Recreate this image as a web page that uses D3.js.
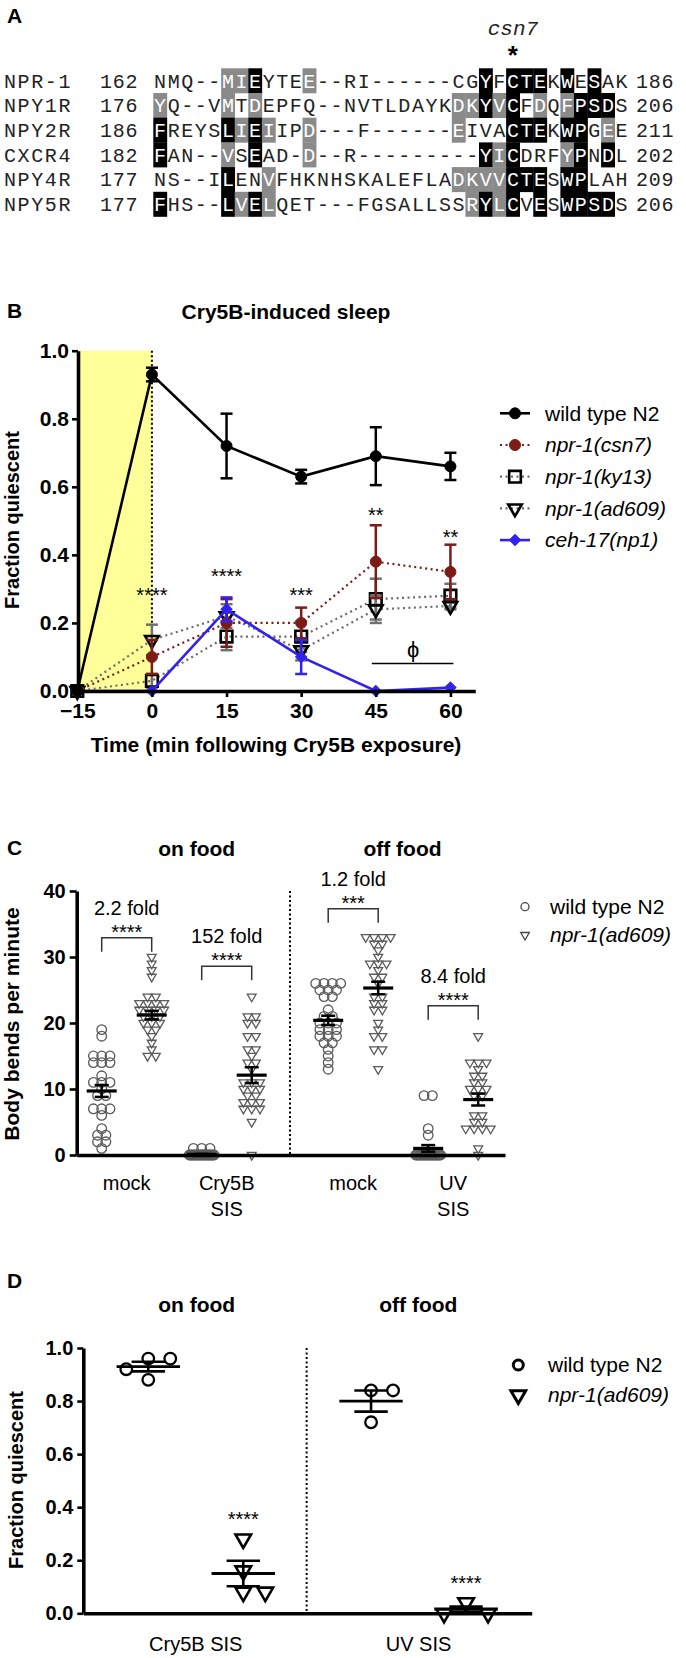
<!DOCTYPE html>
<html><head><meta charset="utf-8">
<script src="https://cdn.jsdelivr.net/npm/d3@7/dist/d3.min.js"></script>
<style>html,body{margin:0;padding:0;background:#fff}svg{display:block}</style>
</head><body>
<svg id="fig" width="686" height="1658"></svg>
<script>
// ===================== DATA =====================
// Panel A – sequence alignment
const alignNames = ["NPR-1","NPY1R","NPY2R","CXCR4","NPY4R","NPY5R"];
const alignStart = [162,176,186,182,177,177];
const alignEnd   = [186,206,211,202,209,206];
const alignSeqs = [
 "NMQ--MIEYTEE--RI------CGYFCTEKWESAK",
 "YQ--VMTDEPFQ--NVTLDAYKDKYVCFDQFPSDS",
 "FREYSLIEIIPD---F------EIVACTEKWPGEE",
 "FAN--VSEAD-D--R---------YICDRFYPNDL",
 "NS--ILENVFHKNHSKALEFLADKVVCTESWPLAH",
 "FHS--LVELQET---FGSALLSSRYLCVESWPSDS"];
const alignBlack = [[7,24,26,27,28,30,32],[24,26,31,32,33],[0,5,7,26,27,28,30,31],[0,7,24,26,31,33],[5,26,27,28,30,31],[0,5,7,24,26,28,30,31,32,33]];
const alignGray  = [[5,6,11],[0,5,7,22,23,25,28,30],[6,8,11,22,33],[5,11,25,30],[8,22,23,24,25],[6,8,23,25]];
const mutationCol = 26;

// Panel B – Cry5B-induced sleep time course
const timePoints = [-15, 0, 15, 30, 45, 60];
const wtMean    = [0, 0.93, 0.72, 0.63, 0.69, 0.66];
const wtErr     = [0, 0.02, 0.095, 0.02, 0.085, 0.04];
const csn7Mean  = [0, 0.10, 0.20, 0.20, 0.38, 0.35];
const csn7Err   = [0, 0.05, 0.07, 0.045, 0.107, 0.08];
const ky13Mean  = [0, 0.03, 0.16, 0.16, 0.27, 0.28];
const ky13Err   = [0, 0.02, 0.04, 0.045, 0.06, 0.035];
const ad609Mean = [0, 0.15, 0.22, 0.12, 0.24, 0.25];
const ad609Err  = [0, 0.045, 0.035, 0.03, 0.04, 0.01];
const ceh17Mean = [0, 0, 0.24, 0.10, 0, 0.01];
const ceh17Err  = [0, 0, 0.035, 0.05, 0, 0];
const starsB     = ["", "****", "****", "***", "**", "**"];
const starLevelB = [0, 0.294, 0.35, 0.294, 0.53, 0.464];
const phiSpan = [45, 60];
const phiLevel = 0.081;
const yTicksB = [0, 0.2, 0.4, 0.6, 0.8, 1.0];

// Panel C – body bends per minute
const cConditions = [["mock"], ["Cry5B","SIS"], ["mock"], ["UV","SIS"]];
const cFood = ["on food", "off food"];
const cMockWT    = [19,18,15,15,15,14,14,14,12,11,11,11,10,9,9,7,7,7,6,4,3,3,2,2,1];
const cMockNpr   = [30,29,28,27,24,24,23,23,23,23,22,22,22,22,21,21,21,20,20,20,19,19,18,17,16,15,15];
const cCryWT     = [1,1,1,0,0,0,0,0,0,0,0,0,0,0,0,0,0,0,0,0,0,0,0,0,0];
const cCryNpr    = [24,21,21,20,20,18,18,16,16,15,14,14,13,11,11,11,10,10,10,9,9,8,8,8,7,7,7,5,0];
const cOffMockWT = [26,26,26,26,25,25,25,24,24,22,21,21,20,20,20,19,19,19,18,18,18,17,17,16,15,14,13];
const cOffMockNpr= [33,33,33,33,32,32,31,30,29,29,29,28,27,27,26,24,24,23,23,22,22,20,19,18,18,16,16,13];
const cUvWT      = [9,9,4,3,0,0,0,0,0,0,0,0,0,0,0,0,0,0,0,0,0,0,0,0,0];
const cUvNpr     = [18,14,14,14,13,12,12,11,11,10,10,10,9,9,6,6,5,5,4,4,4,4,1,0];
const cMeans = [9.7, 21.2, 0.1, 12.1, 20.4, 25.3, 1.0, 8.4];
const cSems  = [0.9, 0.65, 0.06, 1.2, 0.7, 0.95, 0.5, 0.9];
const cFolds = ["2.2 fold", "152 fold", "1.2 fold", "8.4 fold"];
const cFoldStars = ["****", "****", "***", "****"];
const cBracketLevel = [32.9, 28.6, 37.3, 22.6];
const yTicksC = [0, 10, 20, 30, 40];

// Panel D – fraction quiescent
const dConditions = ["Cry5B SIS", "UV SIS"];
const dWtCry  = [0.92, 0.96, 0.96, 0.88];
const dNprCry = [0.28, 0.16, 0.08, 0.08];
const dWtUV   = [0.84, 0.84, 0.72];
const dNprUV  = [0.04, 0.0, 0.0];
const dMeans = [0.93, 0.15, 0.80, 0.015];
const dSems  = [0.018, 0.048, 0.04, 0.01];
const dStars = ["", "****", "", "****"];
const yTicksD = [0, 0.2, 0.4, 0.6, 0.8, 1.0];

// ===================== DRAW =====================
const svg = d3.select("#fig");
svg.append("rect").attr("width", 686).attr("height", 1658).attr("fill", "#fff");
const SANS = "Arial, 'Liberation Sans', Helvetica, sans-serif";
const MONO = "'Courier New', 'Liberation Mono', monospace";

function T(g, x, y, s, o = {}) {
  const t = g.append("text").attr("x", x).attr("y", y).attr("dy", o.dy || "0.35em").text(s)
    .attr("font-size", o.size || 20).attr("font-weight", o.bold ? "bold" : "normal")
    .attr("font-style", o.italic ? "italic" : "normal")
    .attr("text-anchor", o.anchor || "middle").attr("fill", o.fill || "#000")
    .attr("font-family", o.family || SANS);
  if (o.rotate) t.attr("transform", `rotate(${o.rotate},${x},${y})`);
  if (o.ls != null) t.attr("letter-spacing", o.ls);
  return t;
}
function stars(g, x, yc, s, size = 20) {
  return g.append("text").attr("x", x).attr("y", yc + 0.55 * size).text(s)
    .attr("font-size", size).attr("font-family", SANS).attr("text-anchor", "middle").attr("fill", "#000");
}
function styleAxis(g, sw, tw, fs) {
  g.select(".domain").attr("stroke", "#000").attr("stroke-width", sw);
  g.selectAll(".tick line").attr("stroke", "#000").attr("stroke-width", tw);
  g.selectAll(".tick text").attr("font-size", fs).attr("font-weight", "bold")
    .attr("font-family", SANS).attr("fill", "#000");
}
function sym(g, type, x, y, size, rot, fill, stroke, sw) {
  return g.append("path").attr("d", d3.symbol().type(type).size(size)())
    .attr("transform", `translate(${x},${y}) rotate(${rot || 0})`)
    .attr("fill", fill).attr("stroke", stroke).attr("stroke-width", sw);
}
function L(g, x1, y1, x2, y2, c, w, dash) {
  const l = g.append("line").attr("x1", x1).attr("y1", y1).attr("x2", x2).attr("y2", y2)
    .attr("stroke", c).attr("stroke-width", w);
  if (dash) l.attr("stroke-dasharray", dash);
  return l;
}

// ---------- Panel A ----------
const gA = svg.append("g");
T(gA, 7, 16, "A", {bold: true, size: 21, anchor: "start"});
const colX = d3.scaleLinear().domain([0, 35]).range([153.3, 153.3 + 35 * 13.57]);
const cw = colX(1) - colX(0);
const rowY = d3.scaleBand().domain(d3.range(alignSeqs.length)).range([68.3, 68.3 + 6 * 24.7]);
alignSeqs.forEach((seq, r) => {
  const y0 = rowY(r), h = rowY.bandwidth(), yc = y0 + h / 2;
  T(gA, 4, yc, alignNames[r], {family: MONO, size: 20, anchor: "start", fill: "#222", ls: 1.6});
  T(gA, 100, yc, String(alignStart[r]), {family: MONO, size: 20, anchor: "start", fill: "#222", ls: 0.8});
  seq.split("").forEach((ch, i) => {
    const shade = alignBlack[r].includes(i) ? "#000" : alignGray[r].includes(i) ? "#8a8a8a" : null;
    if (shade) gA.append("rect").attr("x", colX(i)).attr("y", y0).attr("width", cw + 0.3).attr("height", h + 0.3).attr("fill", shade);
    T(gA, colX(i) + cw / 2, yc, ch, {family: MONO, size: 20, fill: shade ? "#fff" : "#222"});
  });
  T(gA, 636, yc, String(alignEnd[r]), {family: MONO, size: 20, anchor: "start", fill: "#222", ls: 0.8});
});
T(gA, colX(mutationCol) + cw / 2, 28, "csn7", {family: MONO, size: 21, italic: true, fill: "#222"});
gA.append("text").attr("x", colX(mutationCol) + cw / 2).attr("y", 50 + 0.55 * 26).text("*")
  .attr("font-size", 26).attr("font-weight", "bold").attr("font-family", SANS).attr("text-anchor", "middle");

// ---------- Panel B ----------
const gB = svg.append("g");
T(gB, 7, 311, "B", {bold: true, size: 21, anchor: "start"});
T(gB, 286, 312, "Cry5B-induced sleep", {bold: true, size: 21});
const xB = d3.scaleLinear().domain([-15, 65]).range([77.3, 475.3]);
const yB = d3.scaleLinear().domain([0, 1]).range([691, 350.7]);
gB.append("rect").attr("x", xB(-15)).attr("y", yB(1)).attr("width", xB(0) - xB(-15))
  .attr("height", yB(0) - yB(1)).attr("fill", "#ffff99");
L(gB, xB(0), yB(1), xB(0), yB(0), "#000", 2, "2,2.5");

const seriesB = [
  {label: "npr-1(ky13)",  mean: ky13Mean,  err: ky13Err,  line: "#6b6b6b", dash: "2,3.5", lw: 2.2, mk: "square",  mf: "none",    ms: "#000",    ec: "#707070", italic: true},
  {label: "npr-1(ad609)", mean: ad609Mean, err: ad609Err, line: "#6b6b6b", dash: "2,3.5", lw: 2.2, mk: "tri",     mf: "none",    ms: "#000",    ec: "#707070", italic: true},
  {label: "npr-1(csn7)",  mean: csn7Mean,  err: csn7Err,  line: "#7b1c17", dash: "2,3.5", lw: 2.2, mk: "circle",  mf: "#7b1c17", ms: "#7b1c17", ec: "#7b1c17", italic: true},
  {label: "ceh-17(np1)",  mean: ceh17Mean, err: ceh17Err, line: "#3322ee", dash: null,    lw: 2.6, mk: "diamond", mf: "#3322ee", ms: "#3322ee", ec: "#3322ee", italic: true},
  {label: "wild type N2", mean: wtMean,    err: wtErr,    line: "#000",    dash: null,    lw: 2.6, mk: "circle",  mf: "#000",    ms: "#000",    ec: "#000",    italic: false},
];
function markerB(g, mk, x, y, fill, stroke) {
  if (mk === "circle") g.append("circle").attr("cx", x).attr("cy", y).attr("r", 5.5).attr("fill", fill).attr("stroke", stroke).attr("stroke-width", 1);
  else if (mk === "square") sym(g, d3.symbolSquare, x, y, 135, 0, fill, stroke, 2.6);
  else if (mk === "tri") sym(g, d3.symbolTriangle, x, y, 80, 180, fill, stroke, 2.6);
  else if (mk === "diamond") sym(g, d3.symbolSquare, x, y, 62, 45, fill, stroke, 1);
}
const lineB = d3.line().x(d => xB(d[0])).y(d => yB(d[1]));
seriesB.forEach(s => {
  const pts = timePoints.map((t, i) => [t, s.mean[i]]);
  const p = gB.append("path").attr("d", lineB(pts)).attr("fill", "none").attr("stroke", s.line).attr("stroke-width", s.lw);
  if (s.dash) p.attr("stroke-dasharray", s.dash);
  timePoints.forEach((t, i) => {
    const e = s.err[i];
    if (e > 0) {
      const x = xB(t);
      L(gB, x, yB(s.mean[i] - e), x, yB(s.mean[i] + e), s.ec, 2.5);
      L(gB, x - 6, yB(s.mean[i] + e), x + 6, yB(s.mean[i] + e), s.ec, 2.5);
      L(gB, x - 6, yB(s.mean[i] - e), x + 6, yB(s.mean[i] - e), s.ec, 2.5);
    }
  });
  timePoints.forEach((t, i) => markerB(gB, s.mk, xB(t), yB(s.mean[i]), s.mf, s.ms));
});
timePoints.forEach((t, i) => { if (starsB[i]) stars(gB, xB(t), yB(starLevelB[i]), starsB[i], 20); });
L(gB, xB(phiSpan[0]) - 4, yB(phiLevel), xB(phiSpan[1]) + 3, yB(phiLevel), "#000", 1.5);
T(gB, (xB(phiSpan[0]) + xB(phiSpan[1])) / 2, yB(phiLevel) - 14, "ϕ", {size: 22});

const axYB = gB.append("g").attr("transform", "translate(78,0)")
  .call(d3.axisLeft(yB).tickValues(yTicksB).tickFormat(d3.format(".1f")).tickSize(6).tickSizeOuter(0).tickPadding(3));
styleAxis(axYB, 3.6, 2.6, 21);
const axXB = gB.append("g").attr("transform", "translate(0,691)")
  .call(d3.axisBottom(xB).tickValues(timePoints).tickFormat(d3.format("d")).tickSize(6).tickSizeOuter(0).tickPadding(6));
styleAxis(axXB, 3.6, 2.6, 21);
T(gB, 276, 745, "Time (min following Cry5B exposure)", {bold: true, size: 21});
T(gB, 12, 520, "Fraction quiescent", {bold: true, size: 20, rotate: -90});

// legend B
const legOrder = [4, 2, 0, 1, 3];
legOrder.forEach((si, k) => {
  const s = seriesB[si], y = 413.3 + k * 31.7;
  const l = L(gB, 500, y, 530, y, s.line, s.lw);
  if (s.dash) l.attr("stroke-dasharray", s.dash);
  markerB(gB, s.mk, 515, y, s.mf, s.ms);
  T(gB, 545, y, s.label, {size: 21, anchor: "start", italic: s.italic});
});

// ---------- Panel C ----------
const gC = svg.append("g");
T(gC, 7, 848, "C", {bold: true, size: 21, anchor: "start"});
const xC = d3.scaleLinear().domain([-0.5, 8.066]).range([76.7, 505]);
const yC = d3.scaleLinear().domain([0, 40]).range([1155, 891]);
const cPos = (cond, geno) => cond * 2 + geno + (cond >= 2 ? 0.53 : 0);
const cSep = 3.766;
T(gC, 196.7, 849, cFood[0], {bold: true, size: 21});
T(gC, 402.5, 849, cFood[1], {bold: true, size: 21});
L(gC, xC(cSep), yC(40), xC(cSep), yC(0), "#000", 2, "2,2.5");

function tieLayout(vals, step, maxSpan) {
  const groups = d3.group(vals, v => v);
  const out = [];
  for (const [v, arr] of groups) {
    const n = arr.length;
    const s = n > 1 ? Math.min(step, maxSpan / (n - 1)) : 0;
    arr.forEach((d, k) => out.push({v, dx: (k - (n - 1) / 2) * s}));
  }
  return out;
}
const cGroups = [[cMockWT, cMockNpr], [cCryWT, cCryNpr], [cOffMockWT, cOffMockNpr], [cUvWT, cUvNpr]];
cGroups.forEach((pair, cond) => {
  pair.forEach((vals, geno) => {
    const cx = xC(cPos(cond, geno));
    tieLayout(vals, 8.3, 25).forEach(p => {
      if (geno === 0) gC.append("circle").attr("cx", cx + p.dx).attr("cy", yC(p.v)).attr("r", 4.8)
        .attr("fill", "none").attr("stroke", "#5a5a5a").attr("stroke-width", 1.3);
      else sym(gC, d3.symbolTriangle, cx + p.dx, yC(p.v), 34, 180, "none", "#5a5a5a", 1.3);
    });
    const gi = cond * 2 + geno, m = cMeans[gi], se = cSems[gi];
    L(gC, cx - 15, yC(m), cx + 15, yC(m), "#000", 3.2);
    L(gC, cx, yC(m - se), cx, yC(m + se), "#000", 2.5);
    L(gC, cx - 7, yC(m + se), cx + 7, yC(m + se), "#000", 2.5);
    L(gC, cx - 7, yC(m - se), cx + 7, yC(m - se), "#000", 2.5);
  });
  const xa = xC(cPos(cond, 0)), xb = xC(cPos(cond, 1)), yb = yC(cBracketLevel[cond]);
  gC.append("path").attr("d", `M${xa},${yb + 14}V${yb}H${xb}V${yb + 14}`).attr("fill", "none")
    .attr("stroke", "#333").attr("stroke-width", 1.5);
  stars(gC, (xa + xb) / 2, yb - 10, cFoldStars[cond], 20);
  T(gC, (xa + xb) / 2, yb - 30, cFolds[cond], {size: 20});
  cConditions[cond].forEach((line, li) => T(gC, (xa + xb) / 2, 1183 + li * 26, line, {size: 20}));
});
const axYC = gC.append("g").attr("transform", `translate(${xC(-0.5)},0)`)
  .call(d3.axisLeft(yC).tickValues(yTicksC).tickSize(7).tickSizeOuter(0).tickPadding(4));
styleAxis(axYC, 3.6, 2.6, 20);
const axXC = gC.append("g").attr("transform", `translate(0,${yC(0)})`)
  .call(d3.axisBottom(xC).tickValues([]).tickSizeOuter(0));
styleAxis(axXC, 3.6, 2.6, 20);
T(gC, 12, 1024, "Body bends per minute", {bold: true, size: 21, rotate: -90});
gC.append("circle").attr("cx", 525).attr("cy", 906.7).attr("r", 4).attr("fill", "none").attr("stroke", "#444").attr("stroke-width", 1.3);
T(gC, 550, 906.7, "wild type N2", {size: 21, anchor: "start"});
sym(gC, d3.symbolTriangle, 525, 935, 32, 180, "none", "#444", 1.3);
T(gC, 550, 935, "npr-1(ad609)", {size: 21, anchor: "start", italic: true});

// ---------- Panel D ----------
const gD = svg.append("g");
T(gD, 7, 1281, "D", {bold: true, size: 21, anchor: "start"});
const xD = d3.scaleLinear().domain([-0.684, 4.036]).range([83.3, 531.7]);
const yD = d3.scaleLinear().domain([0, 1]).range([1613.3, 1348]);
const dPos = (cond, geno) => cond * 2 + geno + cond * 0.345;
const dSep = 1.667;
T(gD, 196.7, 1305, "on food", {bold: true, size: 21});
T(gD, 418.3, 1305, "off food", {bold: true, size: 21});
L(gD, xD(dSep), yD(1), xD(dSep), yD(0), "#000", 2, "2,2.5");
function swarm(vals, y, step, minD) {
  const sorted = vals.slice().sort((a, b) => b - a), placed = [];
  for (const v of sorted) {
    const yy = y(v);
    for (let k = 0; k < 30; k++) {
      const m = k === 0 ? 0 : (k % 2 ? Math.ceil(k / 2) : -Math.ceil(k / 2));
      const dx = m * step;
      if (placed.every(p => Math.hypot(p.dx - dx, p.y - yy) >= minD)) { placed.push({v, dx, y: yy}); break; }
    }
  }
  return placed;
}
const dGroups = [[dWtCry, dNprCry], [dWtUV, dNprUV]];
dGroups.forEach((pair, cond) => {
  pair.forEach((vals, geno) => {
    const cx = xD(dPos(cond, geno)), gi = cond * 2 + geno, m = dMeans[gi], se = dSems[gi];
    L(gD, cx - 31.7, yD(m), cx + 31.7, yD(m), "#000", 2.8);
    L(gD, cx, yD(m - se), cx, yD(m + se), "#000", 2.6);
    L(gD, cx - 16.7, yD(m + se), cx + 16.7, yD(m + se), "#000", 2.6);
    L(gD, cx - 16.7, yD(m - se), cx + 16.7, yD(m - se), "#000", 2.6);
    swarm(vals, yD, 22, 12).forEach(p => {
      if (geno === 0) gD.append("circle").attr("cx", cx + p.dx).attr("cy", p.y).attr("r", 5.8)
        .attr("fill", "none").attr("stroke", "#000").attr("stroke-width", 2.3);
      else sym(gD, d3.symbolTriangle, cx + p.dx, p.y, 105, 180, "none", "#000", 2.6);
    });
    if (dStars[gi]) stars(gD, cx, yD(d3.max(vals)) - 24, dStars[gi], 20);
  });
  T(gD, (xD(dPos(cond, 0)) + xD(dPos(cond, 1))) / 2, 1644, dConditions[cond], {size: 20});
});
const axYD = gD.append("g").attr("transform", `translate(${xD(-0.684)},0)`)
  .call(d3.axisLeft(yD).tickValues(yTicksD).tickFormat(d3.format(".1f")).tickSize(6).tickSizeOuter(0).tickPadding(4));
styleAxis(axYD, 3.6, 2.6, 20);
const axXD = gD.append("g").attr("transform", `translate(0,${yD(0)})`)
  .call(d3.axisBottom(xD).tickValues([]).tickSizeOuter(0));
styleAxis(axXD, 3.6, 2.6, 20);
T(gD, 16, 1480, "Fraction quiescent", {bold: true, size: 20, rotate: -90});
gD.append("circle").attr("cx", 518.3).attr("cy", 1365).attr("r", 5).attr("fill", "none").attr("stroke", "#000").attr("stroke-width", 3);
T(gD, 548, 1365, "wild type N2", {size: 21, anchor: "start"});
sym(gD, d3.symbolTriangle, 518.3, 1395, 95, 180, "none", "#000", 3);
T(gD, 548, 1395, "npr-1(ad609)", {size: 21, anchor: "start", italic: true});
</script>
</body></html>
